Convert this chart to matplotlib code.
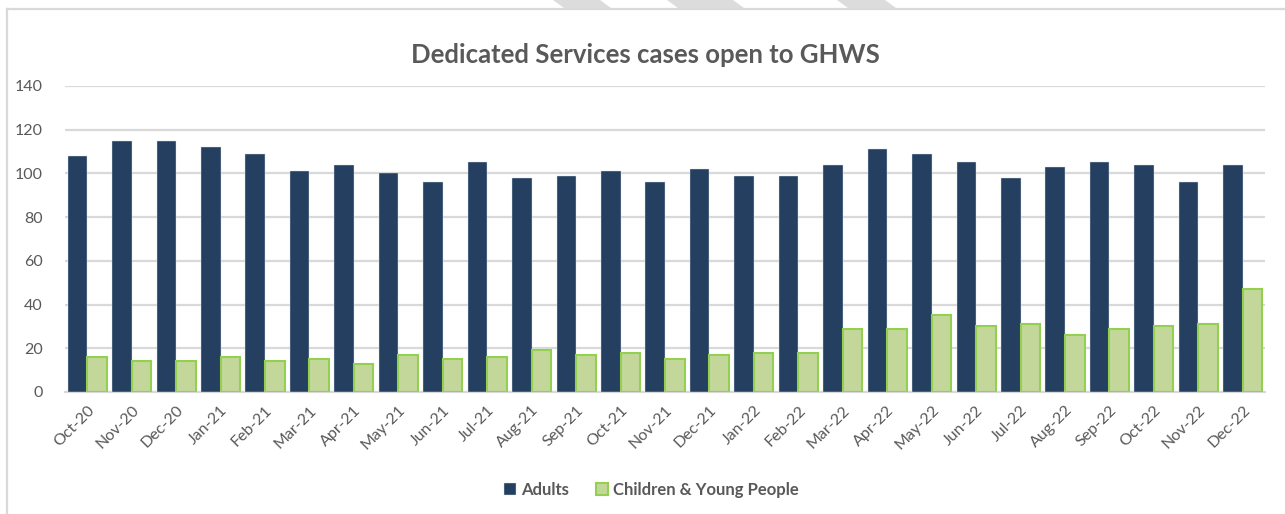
import numpy as np
import matplotlib
matplotlib.use("Agg")
import matplotlib.pyplot as plt
from matplotlib.patches import Polygon
from matplotlib.lines import Line2D

months = ["Oct-20", "Nov-20", "Dec-20", "Jan-21", "Feb-21", "Mar-21", "Apr-21",
          "May-21", "Jun-21", "Jul-21", "Aug-21", "Sep-21", "Oct-21", "Nov-21",
          "Dec-21", "Jan-22", "Feb-22", "Mar-22", "Apr-22", "May-22", "Jun-22",
          "Jul-22", "Aug-22", "Sep-22", "Oct-22", "Nov-22", "Dec-22"]
adults = [108, 115, 115, 112, 109, 101, 104, 100, 96, 105, 98, 99, 101, 96,
          102, 99, 99, 104, 111, 109, 105, 98, 103, 105, 104, 96, 104]
children = [16, 14, 14, 16, 14, 15, 13, 17, 15, 16, 19, 17, 18, 15,
            17, 18, 18, 29, 29, 35, 30, 31, 26, 29, 30, 31, 47]
yticks = [0, 20, 40, 60, 80, 100, 120, 140]

plt.rcParams['font.family'] = ['Lato', 'DejaVu Sans']
text_grey = '#595959'
grid_grey = '#D9D9D9'

fig = plt.figure(figsize=(12.85, 5.14), dpi=100, facecolor='white')
ax = fig.add_axes([0.0506, 0.2374, 0.9338, 0.5953])

x = np.arange(len(months))
w = 0.44
ax.bar(x - w / 2, adults, width=w, color='#243F60', edgecolor='#D6DEE8',
       linewidth=0.3, label='Adults', zorder=3)
ax.bar(x + w / 2, children, width=w, color='#C4D79B', edgecolor='#92D050',
       linewidth=1.5, label='Children & Young People', zorder=3)

ax.set_xlim(-0.5, len(months) - 0.5)
ax.set_ylim(0, 140)
ax.set_yticks(yticks)
ax.yaxis.grid(True, color=grid_grey, linewidth=1.6, zorder=0)
ax.set_axisbelow(True)
for s in ['top', 'right', 'left']:
    ax.spines[s].set_visible(False)
ax.spines['bottom'].set_color(grid_grey)
ax.spines['bottom'].set_linewidth(1.6)
ax.tick_params(axis='both', length=0, colors=text_grey, labelsize=11.5)
ax.tick_params(axis='y', pad=16)
ax.set_xticks(x)
ax.set_xticklabels(months, rotation=45, ha='right', rotation_mode='anchor')
ax.tick_params(axis='x', pad=8)

fig.text(0.502, 0.893, 'Dedicated Services cases open to GHWS', ha='center',
         va='center', fontsize=18.5, fontweight='bold', color=text_grey)

leg = fig.legend(loc='center', bbox_to_anchor=(0.507, 0.047), ncol=2,
                 frameon=False, fontsize=12, handlelength=0.75, handleheight=0.75,
                 handletextpad=0.3, columnspacing=1.6)
for t in leg.get_texts():
    t.set_color(text_grey)
    t.set_fontweight('bold')

# chart frame (top and left edges visible)
H = 514.0
W = 1285.0
fig.add_artist(Line2D([7 / W, 1.0], [1 - 8.5 / H, 1 - 8.5 / H], color=grid_grey,
                      linewidth=1.6, transform=fig.transFigure))
fig.add_artist(Line2D([7 / W, 7 / W], [1 - 8.5 / H, 0.0], color=grid_grey,
                      linewidth=1.6, transform=fig.transFigure))

# faint diagonal stripes above frame
for x0, x1 in [(553, 600), (667, 733), (837, 885)]:
    pts = [(x0 / W, 1.0), (x1 / W, 1.0), ((x1 + 11) / W, 1 - 8 / H),
           ((x0 + 11) / W, 1 - 8 / H)]
    fig.add_artist(Polygon(pts, closed=True, facecolor='#DCDCDC',
                           edgecolor='none', transform=fig.transFigure))

fig.savefig('out.png', dpi=100, facecolor='white')
